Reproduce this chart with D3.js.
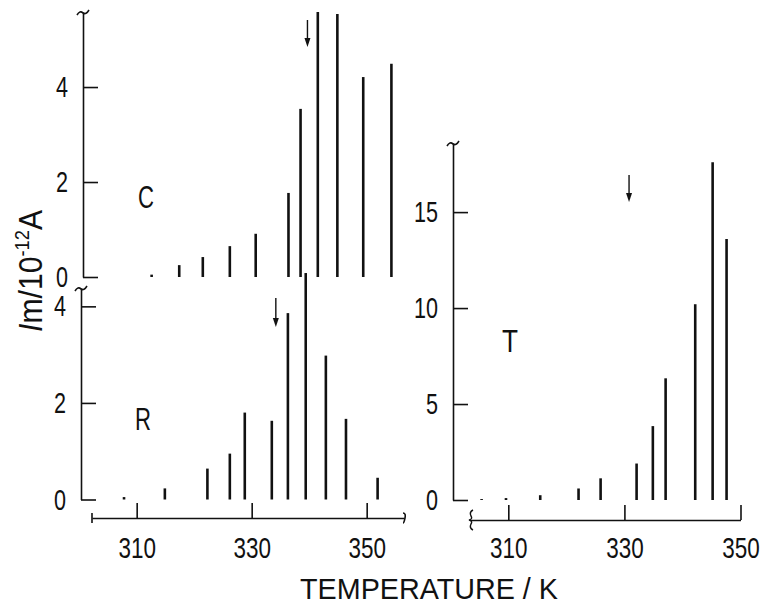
<!DOCTYPE html>
<html>
<head>
<meta charset="utf-8">
<script src="https://cdn.jsdelivr.net/npm/d3@7"></script>
<style>
  body { margin: 0; background: #fff; }
  svg text { font-family: 'Liberation Sans', Arial, sans-serif; fill: #111; }
  .domain, .tick line { stroke: #111; stroke-width: 1.6; }
  .tick text { font-size: 30px; }
</style>
</head>
<body>
<div id="chart"></div>
<script>
// 温度 (K) と電流 (10^-12 A)
var tempsC = [312.6, 317.4, 321.5, 326.2, 330.7, 336.4, 338.5, 341.5, 344.9, 349.4, 354.3];
var currentC = [0.05, 0.25, 0.42, 0.65, 0.91, 1.77, 3.54, 5.58, 5.54, 4.21, 4.49];

var tempsR = [307.8, 314.9, 322.3, 326.2, 328.8, 333.5, 336.3, 339.4, 342.9, 346.4, 351.9];
var currentR = [0.05, 0.23, 0.64, 0.95, 1.8, 1.63, 3.86, 4.69, 2.98, 1.67, 0.45];

var tempsT = [305.4, 309.6, 315.5, 322.1, 325.9, 332.1, 334.9, 337.1, 342.2, 345.2, 347.6];
var currentT = [0.05, 0.1, 0.25, 0.6, 1.13, 1.9, 3.85, 6.34, 10.2, 17.6, 13.6];

// 矢印の温度
var arrowC = 339.7;
var arrowR = 334.2;
var arrowT = 330.8;

// 目盛り
var xTicks = [310, 330, 350];
var yTicksC = [0, 2, 4];
var yTicksR = [0, 2, 4];
var yTicksT = [0, 5, 10, 15];

(function() {
  var width = 767;
  var height = 606;

  var svg = d3.select('#chart').append('svg')
    .attr('width', width)
    .attr('height', height);

  // 文字を横に詰める (元図は細長い書体)
  function squeeze(sel, perChar) {
    sel.each(function() {
      var t = d3.select(this);
      t.attr('textLength', t.text().length * perChar)
        .attr('lengthAdjust', 'spacingAndGlyphs');
    });
  }

  // 左右の温度軸
  var xLeft = d3.scaleLinear().domain([302.23, 356.49]).range([92, 404]);
  var xRight = d3.scaleLinear().domain([303.4, 350]).range([470, 740.5]);

  var panels = [
    { name: 'C', x: xLeft, y: d3.scaleLinear().domain([0, 5.58]).range([277, 12]),
      ax: 83, temps: tempsC, vals: currentC, ticks: yTicksC, arrow: arrowC, arrowY: [20, 47],
      label: [146, 208] },
    { name: 'R', x: xLeft, y: d3.scaleLinear().domain([0, 4.38]).range([499.5, 288]),
      ax: 81, temps: tempsR, vals: currentR, ticks: yTicksR, arrow: arrowR, arrowY: [298, 327],
      label: [143, 430] },
    { name: 'T', x: xRight, y: d3.scaleLinear().domain([0, 18.6]).range([500, 143]),
      ax: 453, temps: tempsT, vals: currentT, ticks: yTicksT, arrow: arrowT, arrowY: [175, 202],
      label: [510, 352] }
  ];

  // 軸の端の波線
  function cap(x, y) {
    svg.append('path')
      .attr('d', 'M' + (x - 6) + ',' + (y + 3) + ' q3,-5 6,-2 q3,2 6,-3')
      .attr('fill', 'none')
      .attr('stroke', '#111')
      .attr('stroke-width', 1.6);
  }

  panels.forEach(function(p) {
    var g = svg.append('g').classed('panel', true);

    // 縦軸
    var ya = g.append('g')
      .attr('transform', 'translate(' + p.ax + ',0)')
      .call(d3.axisLeft(p.y)
        .tickValues(p.ticks)
        .tickFormat(d3.format('d'))
        .tickSizeInner(-15)
        .tickSizeOuter(0)
        .tickPadding(15));
    squeeze(ya.selectAll('.tick text'), 12);

    cap(p.ax, p.y.range()[1]);

    // 縦棒
    g.selectAll('.bar')
      .data(d3.zip(p.temps, p.vals))
      .enter()
      .append('line')
      .classed('bar', true)
      .attr('x1', function(d) { return p.x(d[0]); })
      .attr('x2', function(d) { return p.x(d[0]); })
      .attr('y1', p.y(0))
      .attr('y2', function(d) { return p.y(d[1]); })
      .attr('stroke', '#111')
      .attr('stroke-width', 2.6);

    // 矢印
    var axp = p.x(p.arrow);
    g.append('line')
      .attr('x1', axp).attr('x2', axp)
      .attr('y1', p.arrowY[0]).attr('y2', p.arrowY[1] - 4)
      .attr('stroke', '#111')
      .attr('stroke-width', 1.4);
    g.append('path')
      .attr('d', 'M' + (axp - 3) + ',' + (p.arrowY[1] - 9) + ' L' + axp + ',' + p.arrowY[1] + ' L' + (axp + 3) + ',' + (p.arrowY[1] - 9) + 'Z')
      .attr('fill', '#111');

    // パネル名
    var lab = g.append('text')
      .attr('x', p.label[0])
      .attr('y', p.label[1])
      .attr('text-anchor', 'middle')
      .style('font-size', '31px')
      .text(p.name);
    squeeze(lab, 16);
  });

  // 温度軸
  var axisL = svg.append('g')
    .attr('transform', 'translate(0,518)')
    .call(d3.axisBottom(xLeft).tickValues(xTicks).tickSizeInner(-15).tickSizeOuter(0).tickPadding(19));
  var axisR = svg.append('g')
    .attr('transform', 'translate(0,520)')
    .call(d3.axisBottom(xRight).tickValues(xTicks).tickSizeInner(-15).tickSizeOuter(0).tickPadding(17));
  squeeze(axisL.selectAll('.tick text'), 12.5);
  squeeze(axisR.selectAll('.tick text'), 12.5);

  // 端の印
  svg.append('path')
    .attr('d', 'M92,513 V523 M403,513 q3,0 2,5 q-1,5 -2,5')
    .attr('fill', 'none').attr('stroke', '#111').attr('stroke-width', 1.6);
  svg.append('path')
    .attr('d', 'M473,510 q-4,2 -2,6 q2,3 -2,4 q4,1 2,4 q-2,4 2,6')
    .attr('fill', 'none').attr('stroke', '#111').attr('stroke-width', 1.4);

  // 軸タイトル
  var xTitle = svg.append('text')
    .attr('x', 429)
    .attr('y', 599)
    .attr('text-anchor', 'middle')
    .style('font-size', '30px')
    .text('TEMPERATURE / K');
  xTitle.attr('textLength', 258).attr('lengthAdjust', 'spacingAndGlyphs');

  var yTitle = svg.append('text')
    .attr('transform', 'translate(42,271) rotate(-90)')
    .attr('text-anchor', 'middle')
    .attr('textLength', 122)
    .attr('lengthAdjust', 'spacingAndGlyphs')
    .style('font-size', '33px');
  yTitle.append('tspan').style('font-style', 'italic').text('I');
  yTitle.append('tspan').text('m/10');
  yTitle.append('tspan').attr('dy', -13).style('font-size', '20px').text('-12');
  yTitle.append('tspan').attr('dy', 13).text('A');
})();
</script>
</body>
</html>
